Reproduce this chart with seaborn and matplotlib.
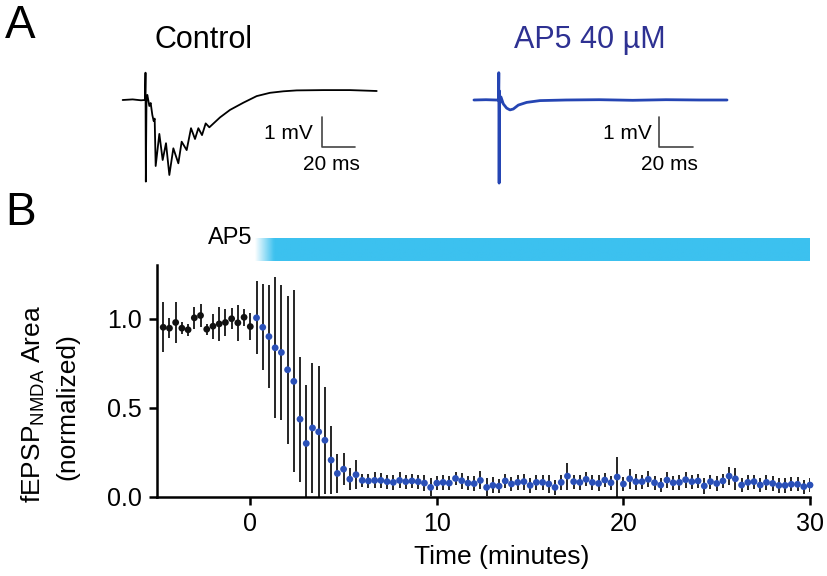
# Two panels: example field-potential traces (A) and the NMDA fEPSP time course (B)
import numpy as np
import pandas as pd
import matplotlib
matplotlib.use("Agg")
import matplotlib.pyplot as plt
import seaborn as sns
from matplotlib.colors import to_rgb

# ---- Panel A: example traces (time in ms, voltage in mV) ----
ctrl_t = [-14.0, -8.0, -3.0, -0.6, -0.3, -0.1, 0.3, 0.8, 2.0, 2.8, 3.8, 4.6, 5.2,
          5.8, 8.0, 10.0, 12.0, 14.0, 16.4, 19.4, 21.4, 24.4, 27.0, 29.4, 31.4,
          33.6, 35.8, 38.0, 44.4, 50.4, 58.4, 66.4, 74.4, 82.4, 90.4, 106.4,
          122.4, 138.4]
ctrl_v = [0.0, 0.02, -0.01, 0.0, 0.91, -2.72, 0.1, 0.17, -0.2, -0.1, -0.5, -0.7,
          -0.62, -2.2, -1.13, -2.0, -1.44, -2.5, -1.61, -2.11, -1.39, -1.67, -0.94,
          -1.3, -0.94, -1.17, -0.78, -0.91, -0.58, -0.33, -0.09, 0.13, 0.24, 0.29,
          0.32, 0.33, 0.33, 0.30]

ap5_t = [-15.2, -8.0, -2.0, -0.5, -0.3, -0.1, 0.1, 0.4, 1.0, 2.4, 4.4, 6.4, 8.4,
         11.4, 16.4, 24.4, 40.0, 60.0, 80.0, 100.0, 120.0, 136.6]
ap5_v = [0.0, 0.01, 0.0, 0.0, 0.91, -2.77, 0.3, -0.1, 0.1, -0.13, -0.27, -0.33,
         -0.3, -0.17, -0.08, -0.02, 0.0, 0.01, -0.01, 0.01, 0.0, 0.0]

# ---- Panel B: normalized fEPSP area, one sample every 20 s ----
sample_min = np.arange(-14, 91) / 3.0

baseline_area = [0.951, 0.946, 0.978, 0.946, 0.937, 1.004, 1.017, 0.940, 0.957,
                 0.970, 0.978, 0.999, 0.976, 1.007, 0.955]
baseline_err = [0.14, 0.055, 0.115, 0.035, 0.035, 0.06, 0.065, 0.03, 0.07, 0.095,
                0.077, 0.06, 0.10, 0.047, 0.075]

ap5_area = [1.004, 0.951, 0.899, 0.836, 0.810, 0.713, 0.648, 0.436, 0.300, 0.387,
            0.365, 0.318,
            0.207, 0.132, 0.156, 0.100, 0.125, 0.093, 0.090, 0.093, 0.093, 0.086,
            0.082, 0.093, 0.086, 0.090, 0.086, 0.078, 0.054, 0.078, 0.082, 0.078,
            0.104, 0.091, 0.078, 0.075, 0.093, 0.054, 0.065, 0.061, 0.090, 0.073,
            0.082, 0.086, 0.065, 0.082, 0.082, 0.073, 0.054, 0.082, 0.117, 0.086,
            0.082, 0.099, 0.082, 0.076, 0.095, 0.080, 0.112, 0.073, 0.102, 0.086,
            0.086, 0.099, 0.080, 0.067, 0.095, 0.080, 0.082, 0.097, 0.086, 0.090,
            0.062, 0.086, 0.076, 0.090, 0.117, 0.102, 0.067, 0.082, 0.086, 0.067,
            0.082, 0.076, 0.065, 0.065, 0.071, 0.071, 0.058, 0.067]
ap5_err = [0.205, 0.24, 0.29, 0.395, 0.38, 0.415, 0.51, 0.35, 0.33, 0.365, 0.37, 0.30,
           0.19, 0.11, 0.09, 0.06, 0.08, 0.035, 0.04, 0.045, 0.04, 0.04,
           0.04, 0.045, 0.04, 0.04, 0.04, 0.045, 0.05, 0.04, 0.04, 0.04,
           0.035, 0.045, 0.04, 0.04, 0.05, 0.05, 0.045, 0.04, 0.04, 0.04,
           0.04, 0.045, 0.04, 0.04, 0.04, 0.05, 0.04, 0.04, 0.075, 0.04,
           0.04, 0.04, 0.04, 0.045, 0.04, 0.04, 0.11, 0.04, 0.055, 0.045,
           0.04, 0.045, 0.04, 0.04, 0.045, 0.04, 0.04, 0.045, 0.04, 0.04,
           0.045, 0.04, 0.04, 0.04, 0.05, 0.06, 0.04, 0.04, 0.04, 0.04,
           0.04, 0.04, 0.04, 0.04, 0.04, 0.04, 0.04, 0.04]

assert len(baseline_area) + len(ap5_area) == len(sample_min)

df = pd.DataFrame({
    "time": sample_min,
    "area": baseline_area + ap5_area,
    "err": baseline_err + ap5_err,
    "phase": ["baseline"] * len(baseline_area) + ["ap5"] * len(ap5_area),
})

# ---- Style ----
sns.set_theme(style="ticks")
plt.rcParams["font.family"] = ["Liberation Sans", "DejaVu Sans"]
plt.rcParams["mathtext.fontset"] = "custom"
plt.rcParams["mathtext.rm"] = "Liberation Sans"
for key in ["text.color", "axes.labelcolor", "xtick.color", "ytick.color",
            "axes.edgecolor"]:
    plt.rcParams[key] = "black"

W, H = 827, 576
fig = plt.figure(figsize=(W / 100, H / 100), dpi=100)
fig.patch.set_facecolor("white")

def px_axes(x0, y0, w, h):
    # axes placed by pixel box (top-left origin)
    return fig.add_axes([x0 / W, 1 - (y0 + h) / H, w / W, h / H])

PX_MS, PX_MV = 1.667, 30.0
trace_w, trace_h = 170 * PX_MS, 4.4 * PX_MV

# ---- Panel A traces ----
ax_c = px_axes(146 - 20 * PX_MS, 100 - 1.2 * PX_MV, trace_w, trace_h)
ax_b = px_axes(499.3 - 20 * PX_MS, 100 - 1.2 * PX_MV, trace_w, trace_h)

sns.lineplot(x=ctrl_t, y=ctrl_v, sort=False, estimator=None, color="black",
             lw=1.3, ax=ax_c)
sns.lineplot(x=ap5_t, y=ap5_v, sort=False, estimator=None, color="#2545b3",
             lw=2.0, ax=ax_b)

for ax, bar_t, lab_t, ms_t in [(ax_c, 105.4, 100, 111), (ax_b, 96, 91.4, 102)]:
    ax.set_xlim(-20, 150)
    ax.set_ylim(-3.2, 1.2)
    ax.axis("off")
    ax.plot([bar_t, bar_t, bar_t + 20], [-0.56, -1.56, -1.56], color="#444444", lw=1.2)
    ax.text(lab_t, -1.13, "1 mV", ha="right", va="center", fontsize=15)
    ax.text(ms_t, -2.15, "20 ms", ha="center", va="center", fontsize=15)

fig.text(5 / W, 1 - 38 / H, "A", fontsize=33, va="baseline", ha="left")
fig.text(203 / W, 1 - 40 / H, "Control", fontsize=22, ha="center", va="center")
fig.text(590 / W, 1 - 40 / H, "AP5 40 µM", fontsize=22, ha="center", va="center",
         color="#2e3192")

# ---- Panel B time course ----
ax = px_axes(157, 265, 653, 232)
ax.vlines(df["time"], df["area"] - df["err"], df["area"] + df["err"],
          color="black", lw=1.2, zorder=2)
sns.scatterplot(data=df, x="time", y="area", hue="phase",
                palette={"baseline": "#111111", "ap5": "#2a50b8"},
                s=24, edgecolor="none", legend=False, ax=ax, zorder=3, clip_on=False)

# AP5 application bar with a soft leading edge
n = 300
bar = np.ones((1, n, 4))
bar[..., :3] = to_rgb("#3cc1ef")
bar[..., 3] = np.clip(np.linspace(0, 1, n) / 0.035, 0, 1)
ax.imshow(bar, extent=[0.2, 30, 1.324, 1.4525], aspect="auto", clip_on=False,
          interpolation="bilinear", zorder=1)
ax.text(0.1, 1.42, "AP5", ha="right", va="baseline", fontsize=17, clip_on=False)

ax.set_xlim(-5, 30)
ax.set_ylim(0, 1.3)
ax.set_xticks([0, 10, 20, 30])
ax.set_yticks([0, 0.5, 1.0])
ax.set_yticklabels(["0.0", "0.5", "1.0"])
ax.set_xlabel("")
ax.set_ylabel("")
sns.despine(ax=ax)
for side in ["left", "bottom"]:
    ax.spines[side].set_linewidth(1.8)
    ax.spines[side].set_color("black")
ax.tick_params(axis="both", direction="out", length=6, width=1.8, labelsize=18,
               pad=5, color="black", labelcolor="black")

fig.text(5 / W, 1 - 225 / H, "B", fontsize=33, va="baseline", ha="left")
fig.text(502 / W, 1 - 557 / H, "Time (minutes)", fontsize=19, ha="center", va="center")
fig.text(33 / W, 1 - 403.5 / H, r"fEPSP$_{\mathregular{NMDA}}$ Area", fontsize=19,
         rotation=90, ha="center", va="center")
fig.text(67 / W, 1 - 406.5 / H, "(normalized)", fontsize=19, rotation=90,
         ha="center", va="center")

fig.savefig("out.png", dpi=100, facecolor="white")
